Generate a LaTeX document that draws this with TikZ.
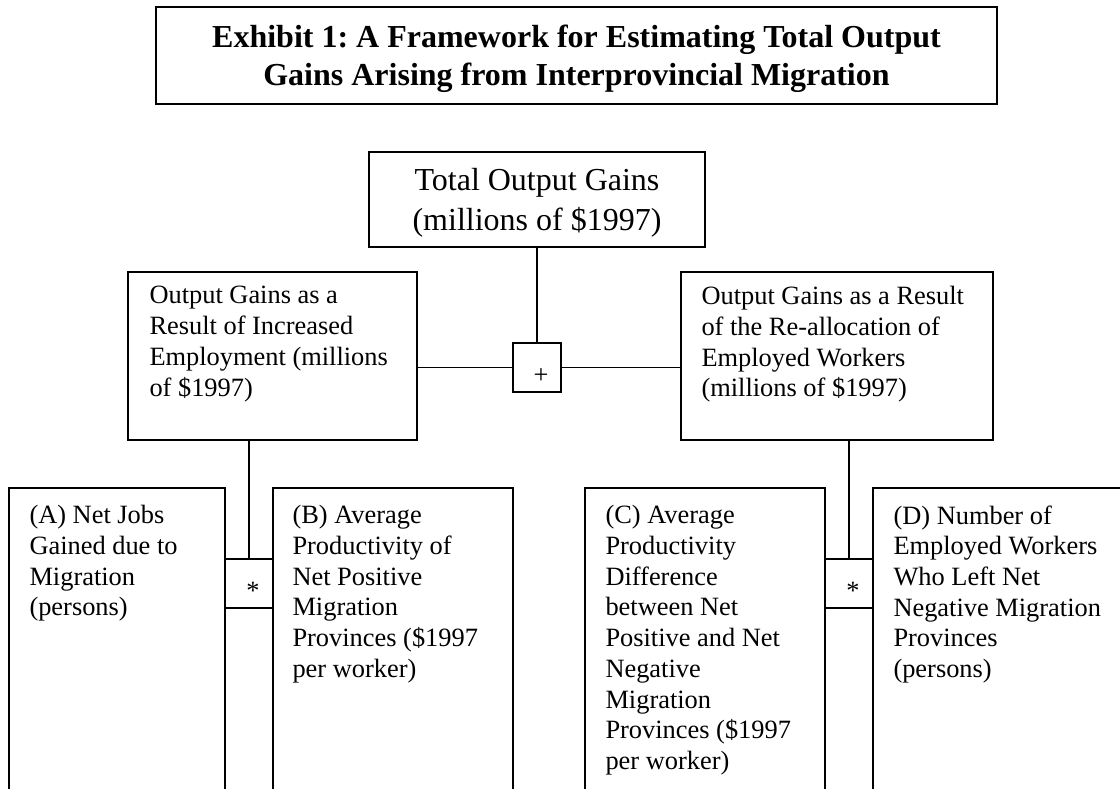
\documentclass[tikz,border=0pt]{standalone}
\usepackage{fontspec}
\setmainfont{Liberation Serif}
\usetikzlibrary{positioning}
\frenchspacing

\tikzset{
  box/.style={draw, line width=0.9pt, inner sep=0pt},
  opbox/.style={draw, line width=0.9pt, inner sep=0pt, minimum width=24pt,
    minimum height=24.5pt, text height=15.5pt, text depth=0pt,
    font=\fontsize{13.2}{15.3}\selectfont},
  txt/.style={anchor=north west, inner sep=0pt, align=left,
    font=\fontsize{13.2}{15.35}\selectfont},
  link/.style={line width=0.9pt}
}

\begin{document}
\begin{tikzpicture}[x=0.5pt,y=-0.5pt]
\useasboundingbox (0,0) rectangle (1120,788);
\clip (0,0) rectangle (1120,788);

\node[box, minimum width=420.5pt, minimum height=48.5pt, align=center, text depth=0pt,
  font=\bfseries\fontsize{16}{19}\selectfont] (title) at (576.5,55.5)
  {Exhibit 1: A Framework for Estimating Total Output\\Gains Arising from Interprovincial Migration};

\node[box, minimum width=168pt, minimum height=47.5pt, align=center, text depth=0pt,
  font=\fontsize{16}{20}\selectfont] (total) at (537,199.5)
  {Total Output Gains\\(millions of \$1997)};

\node[opbox] (plus) at (537,367.5) {\hspace*{4pt}+};

% middle level
\node[box, minimum width=144.5pt, minimum height=84pt] (incbox) at (272.5,356) {};
\node[box, minimum width=156pt, minimum height=84pt] (realbox) at (837,356) {};
\node[txt] (inctext) at ([xshift=11pt,yshift=-7.5pt]incbox.north west)
  {Output Gains as a\\Result of Increased\\Employment (millions\\of \$1997)};
\node[txt] (realtext) at ([xshift=10.5pt,yshift=-7.5pt]realbox.north west)
  {Output Gains as a Result\\of the Re-allocation of\\Employed Workers\\(millions of \$1997)};

% bottom level
\node[box, minimum width=108pt, minimum height=176pt] (boxA) at (117,664) {};
\node[box, minimum width=120pt, minimum height=176pt] (boxB) at (393,664) {};
\node[box, minimum width=120pt, minimum height=176pt] (boxC) at (705,664) {};
\node[box, minimum width=138.5pt, minimum height=176pt] (boxD) at (1011.5,664) {};
\node[opbox] (starL) at (249,583.5) {\hspace*{4pt}*};
\node[opbox] (starR) at (849,583.5) {\hspace*{4pt}*};

\node[txt] (textA) at ([xshift=10.5pt,yshift=-9pt]boxA.north west)
  {(A) Net Jobs\\Gained due to\\Migration\\(persons)};
\node[txt] (textB) at ([xshift=10pt,yshift=-9pt]boxB.north west)
  {(B) Average\\Productivity of\\Net Positive\\Migration\\Provinces (\$1997\\per worker)};
\node[txt] (textC) at ([xshift=10.5pt,yshift=-9pt]boxC.north west)
  {(C) Average\\Productivity\\Difference\\between Net\\Positive and Net\\Negative\\Migration\\Provinces (\$1997\\per worker)};
\node[txt] (textD) at ([xshift=10.5pt,yshift=-9pt]boxD.north west)
  {(D) Number of\\Employed Workers\\Who Left Net\\Negative Migration\\Provinces\\(persons)};

% connectors
\draw[link] (total) -- (plus);
\draw[link] (plus.west) -- (plus.west -| incbox.east);
\draw[link] (plus.east) -- (plus.east -| realbox.west);
\draw[link] (starL.north) -- (starL.north |- incbox.south);
\draw[link] (starR.north) -- (starR.north |- realbox.south);
\end{tikzpicture}
\end{document}
